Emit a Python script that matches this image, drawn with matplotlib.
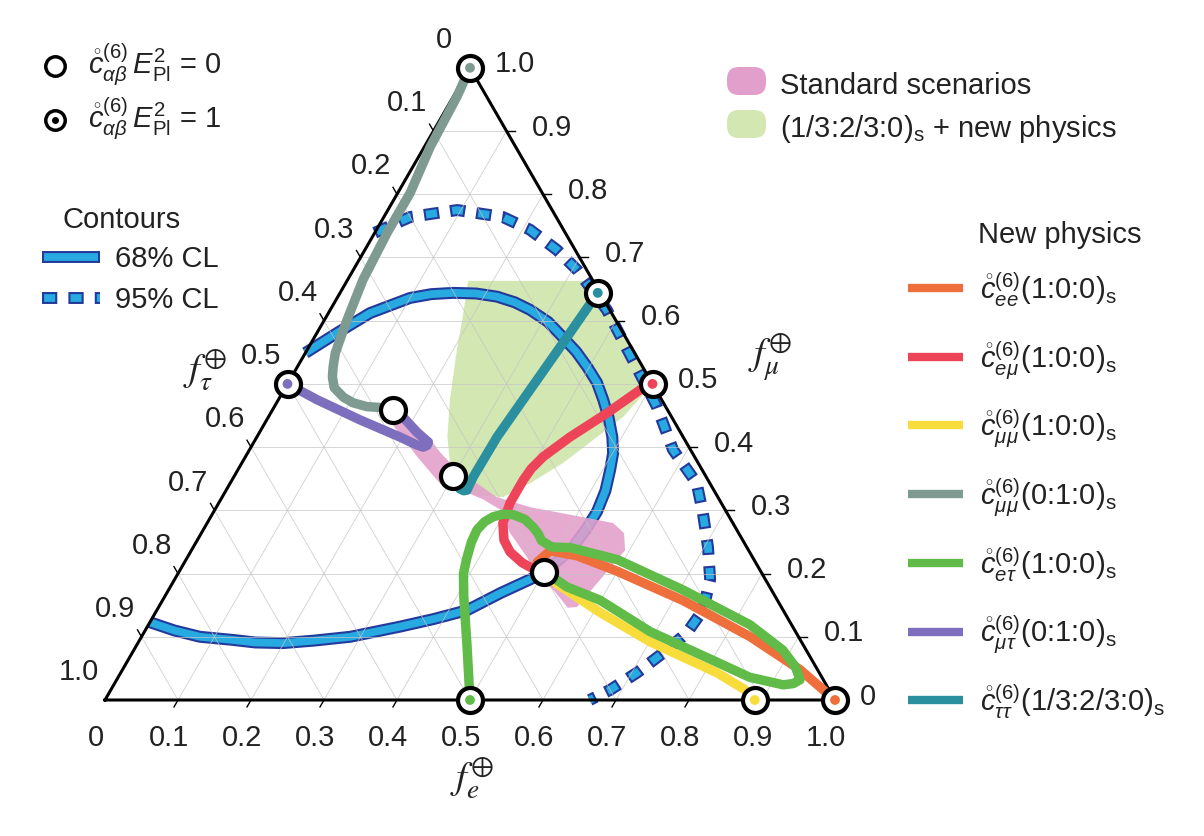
import numpy as np
import matplotlib.pyplot as plt
from matplotlib.patches import Polygon, FancyBboxPatch

plt.rcParams['font.family'] = ['Liberation Sans', 'DejaVu Sans']
plt.rcParams['mathtext.fontset'] = 'custom'
plt.rcParams['mathtext.rm'] = 'Liberation Sans'
plt.rcParams['mathtext.it'] = 'Liberation Sans:italic'
plt.rcParams['lines.scale_dashes'] = False

# --- data: flavour fractions (f_e, f_mu); f_tau = 1 - f_e - f_mu ---
ticks = [0.1, 0.2, 0.3, 0.4, 0.5, 0.6, 0.7, 0.8, 0.9]
tick_labels = ['0', '0.1', '0.2', '0.3', '0.4', '0.5', '0.6', '0.7', '0.8', '0.9', '1.0']

# standard scenarios region
std_fe = [0.150, 0.188, 0.232, 0.263, 0.296, 0.324, 0.376, 0.430, 0.506, 0.556, 0.579, 0.594, 0.583,
          0.573, 0.561, 0.531, 0.493, 0.465, 0.423, 0.391, 0.360, 0.332, 0.287, 0.235, 0.177]
std_fmu = [0.467, 0.451, 0.419, 0.392, 0.367, 0.351, 0.321, 0.305, 0.290, 0.280, 0.264, 0.237, 0.190,
           0.147, 0.146, 0.171, 0.198, 0.226, 0.264, 0.301, 0.317, 0.328, 0.343, 0.385, 0.435]

# (1/3:2/3:0)_s + new physics region
np_fe = [0.166, 0.337, 0.500, 0.486, 0.466, 0.440, 0.411, 0.385, 0.345, 0.287, 0.261, 0.235, 0.205, 0.187]
np_fmu = [0.663, 0.663, 0.500, 0.448, 0.416, 0.375, 0.343, 0.321, 0.324, 0.372, 0.416, 0.475, 0.554, 0.606]

# 68% and 95% CL contours
cl68_fe = [0.0, 0.028, 0.057, 0.100, 0.126, 0.155, 0.187, 0.218, 0.247, 0.274, 0.308, 0.340, 0.370,
           0.397, 0.423, 0.445, 0.467, 0.487, 0.501, 0.510, 0.520, 0.525, 0.524, 0.520, 0.512,
           0.504, 0.490, 0.457, 0.425, 0.386, 0.346, 0.286, 0.240, 0.199, 0.160, 0.128, 0.080, 0.040, 0.0]
cl68_fmu = [0.549, 0.581, 0.612, 0.636, 0.642, 0.644, 0.643, 0.638, 0.629, 0.617, 0.598, 0.574, 0.551,
            0.527, 0.502, 0.475, 0.446, 0.416, 0.390, 0.364, 0.331, 0.298, 0.270, 0.242, 0.224,
            0.210, 0.193, 0.169, 0.142, 0.128, 0.116, 0.100, 0.094, 0.090, 0.091, 0.095, 0.100, 0.110, 0.123]
cl95_fe = [0.0, 0.036, 0.095, 0.163, 0.210, 0.263, 0.307, 0.379, 0.454, 0.524, 0.580, 0.639, 0.671,
           0.705, 0.734, 0.748, 0.744, 0.727, 0.707, 0.684, 0.664]
cl95_fmu = [0.739, 0.764, 0.775, 0.764, 0.744, 0.712, 0.680, 0.617, 0.538, 0.464, 0.396, 0.343, 0.296,
            0.242, 0.190, 0.142, 0.106, 0.074, 0.043, 0.016, 0.0]

# new physics curves
ee_fe = [0.50, 0.483, 0.492, 0.533, 0.599, 0.714, 0.834, 0.928, 1.0]
ee_fmu = [0.2025, 0.218, 0.236, 0.228, 0.204, 0.157, 0.100, 0.048, 0.0]
emu_fe = [0.5, 0.488, 0.461, 0.429, 0.408, 0.401, 0.399, 0.399, 0.405, 0.420, 0.438, 0.463, 0.486, 0.50]
emu_fmu = [0.5, 0.491, 0.454, 0.416, 0.385, 0.366, 0.348, 0.312, 0.280, 0.253, 0.234, 0.217, 0.206, 0.2025]
mumu1_fe = [0.50, 0.527, 0.608, 0.701, 0.817, 0.869, 0.89]
mumu1_fmu = [0.2025, 0.184, 0.139, 0.092, 0.043, 0.016, 0.0]
mumu2_fe = [0.0, 0.005, 0.008, 0.017, 0.017, 0.021, 0.031, 0.041, 0.049, 0.056, 0.067, 0.087, 0.105,
            0.127, 0.155, 0.165]
mumu2_fmu = [1.0, 0.954, 0.875, 0.802, 0.739, 0.665, 0.601, 0.549, 0.527, 0.511, 0.494, 0.479, 0.470,
             0.464, 0.462, 0.459]
etau_fe = [0.5, 0.454, 0.410, 0.391, 0.383, 0.377, 0.375, 0.379, 0.387, 0.399, 0.413, 0.432, 0.449,
           0.462, 0.472, 0.491, 0.517, 0.591, 0.705, 0.824, 0.889, 0.920, 0.936, 0.930, 0.917, 0.865,
           0.808, 0.693, 0.599, 0.543, 0.515, 0.50]
etau_fmu = [0.0, 0.084, 0.163, 0.200, 0.226, 0.250, 0.269, 0.282, 0.290, 0.294, 0.293, 0.286, 0.274,
            0.263, 0.252, 0.242, 0.241, 0.222, 0.174, 0.119, 0.079, 0.052, 0.032, 0.026, 0.024, 0.036,
            0.060, 0.108, 0.158, 0.179, 0.195, 0.2025]
mutau_fe = [0.0, 0.053, 0.128, 0.196, 0.224, 0.236, 0.240, 0.239, 0.216, 0.184, 0.165]
mutau_fmu = [0.5, 0.475, 0.443, 0.416, 0.404, 0.400, 0.403, 0.408, 0.423, 0.448, 0.459]
tautau_fe = [0.353, 0.345, 0.337, 0.329, 0.328, 0.329, 0.330, 0.326, 0.319, 0.300]
tautau_fmu = [0.644, 0.565, 0.491, 0.416, 0.353, 0.340, 0.332, 0.331, 0.334, 0.354]

# points at c E^2 = 0 (open) and c E^2 = 1 (dotted)
e0_fe = [0.165, 0.300, 0.50]
e0_fmu = [0.459, 0.354, 0.2025]
e1_fe = [0.0, 0.353, 0.5, 0.0, 0.5, 0.89, 1.0]
e1_fmu = [1.0, 0.644, 0.5, 0.5, 0.0, 0.0, 0.0]

c_ee = '#ef6f3c'
c_emu = '#ee4459'
c_mumu1 = '#f8dc3c'
c_mumu2 = '#7f9a91'
c_etau = '#60bb48'
c_mutau = '#7d6fbd'
c_tautau = '#2a8f9f'
e1_colors = [c_mumu2, c_tautau, c_emu, c_mutau, c_etau, c_mumu1, c_ee]

curves = [(ee_fe, ee_fmu, c_ee, r'$\mathring{c}^{(6)}_{ee}$(1:0:0)$_\mathrm{s}$'),
          (emu_fe, emu_fmu, c_emu, r'$\mathring{c}^{(6)}_{e\mu}$(1:0:0)$_\mathrm{s}$'),
          (mumu1_fe, mumu1_fmu, c_mumu1, r'$\mathring{c}^{(6)}_{\mu\mu}$(1:0:0)$_\mathrm{s}$'),
          (mumu2_fe, mumu2_fmu, c_mumu2, r'$\mathring{c}^{(6)}_{\mu\mu}$(0:1:0)$_\mathrm{s}$'),
          (etau_fe, etau_fmu, c_etau, r'$\mathring{c}^{(6)}_{e\tau}$(1:0:0)$_\mathrm{s}$'),
          (mutau_fe, mutau_fmu, c_mutau, r'$\mathring{c}^{(6)}_{\mu\tau}$(0:1:0)$_\mathrm{s}$'),
          (tautau_fe, tautau_fmu, c_tautau, r'$\mathring{c}^{(6)}_{\tau\tau}$(1/3:2/3:0)$_\mathrm{s}$')]

S3 = np.sqrt(3) / 2


def tern(fe, fmu):
    fe = np.asarray(fe, dtype=float)
    fmu = np.asarray(fmu, dtype=float)
    return fe + fmu / 2, fmu * S3


dark_blue = '#23399b'
light_blue = '#27a9e1'
lw_dark, lw_light = 8.6, 5.6
dash_dark = (0, (11, 8))
dash_light = (17.5, (8, 11))

fig = plt.figure(figsize=(12.04, 8.36), dpi=100)
ax = fig.add_axes([0, 0, 1, 1])
ax.set_xlim(-105 / 730, 1099 / 730)
ax.set_ylim(-136 / 730, 700 / 730)
ax.axis('off')

# shaded regions
ax.add_patch(Polygon(np.column_stack(tern(np_fe, np_fmu)), closed=True, fc='#d3e7b2', ec='none', zorder=1))

# contours
x, y = tern(cl68_fe, cl68_fmu)
ax.plot(x, y, color=dark_blue, lw=lw_dark, solid_capstyle='butt', solid_joinstyle='round', zorder=2)
ax.plot(x, y, color=light_blue, lw=lw_light, solid_capstyle='butt', solid_joinstyle='round', zorder=2.1)
x, y = tern(cl95_fe, cl95_fmu)
ax.plot(x, y, color=dark_blue, lw=lw_dark, linestyle=dash_dark, dash_capstyle='butt', zorder=2)
ax.plot(x, y, color=light_blue, lw=lw_light, linestyle=dash_light, dash_capstyle='butt', zorder=2.1)

ax.add_patch(Polygon(np.column_stack(tern(std_fe, std_fmu)), closed=True, fc='#e39fcb', ec='none',
                     alpha=0.88, zorder=2.5))

# grid
for v in ticks:
    for a, b in [((v, 0), (v, 1 - v)), ((0, v), (1 - v, v)), ((1 - v, 0), (0, 1 - v))]:
        gx, gy = tern([a[0], b[0]], [a[1], b[1]])
        ax.plot(gx, gy, color='#c4c4c4', lw=0.6, alpha=0.8, zorder=3)

# new physics curves
for fe, fmu, col, lab in curves:
    x, y = tern(fe, fmu)
    ax.plot(x, y, color=col, lw=6.8, solid_capstyle='round', solid_joinstyle='round', zorder=4)

# triangle
tx, ty = tern([0, 1, 0, 0], [0, 0, 1, 0])
ax.plot(tx, ty, color='black', lw=2.2, solid_joinstyle='miter', zorder=3.5)

# ticks and tick labels
tl = 8 / 730
for i, v in enumerate([0] + ticks + [1]):
    # f_e on bottom axis
    bx, by = tern(v, 0)
    if 0 < v < 1:
        ax.plot([bx, bx - 0.5 * tl], [by, by - S3 * tl], color='black', lw=1, zorder=3.5)
    ax.annotate(tick_labels[i], (bx, by), xytext=(-6.5, -27), textcoords='offset points',
                ha='center', va='center', fontsize=21, color='#222222')
    # f_mu on right axis
    rx, ry = tern(1 - v, v)
    if 0 < v < 1:
        ax.plot([rx, rx + tl], [ry, ry], color='black', lw=1, zorder=3.5)
    ax.annotate(tick_labels[i], (rx, ry), xytext=(18, 2.5), textcoords='offset points',
                ha='left', va='center', fontsize=21, color='#222222')
    # f_tau on left axis
    lx, ly = tern(0, 1 - v)
    if 0 < v < 1:
        ax.plot([lx, lx - 0.5 * tl], [ly, ly + S3 * tl], color='black', lw=1, zorder=3.5)
    ax.annotate(tick_labels[i], (lx, ly), xytext=(-19, 20), textcoords='offset points',
                ha='center', va='center', fontsize=21, color='#222222')

# markers
x, y = tern(e1_fe, e1_fmu)
ax.plot(x, y, 'o', ms=18, mfc='white', mec='black', mew=3, zorder=6)
ax.scatter(x, y, s=50, c=e1_colors, zorder=7, linewidths=0)
x, y = tern(e0_fe, e0_fmu)
ax.plot(x, y, 'o', ms=18, mfc='white', mec='black', mew=3, zorder=6)

# overlay in pixel units for legends and axis titles
lax = fig.add_axes([0, 0, 1, 1], zorder=10)
lax.set_xlim(0, 1204)
lax.set_ylim(836, 0)
lax.axis('off')
lax.patch.set_alpha(0)

lab_kw = dict(fontsize=21, color='#222222')
for tx_, ty_, s in [(205, 370, r'$f_{\tau}^{\oplus}$'), (770, 357, r'$f_{\mu}^{\oplus}$'),
                    (472, 778, r'$f_{e}^{\oplus}$')]:
    lax.text(tx_, ty_, s, fontsize=28, ha='center', va='center', math_fontfamily='stix', color='#222222')

# marker legend
for yy, lab, dot in [(66, r'$\mathring{c}^{(6)}_{\alpha\beta}\,E^{2}_{\mathrm{Pl}}$ = 0', False),
                     (120, r'$\mathring{c}^{(6)}_{\alpha\beta}\,E^{2}_{\mathrm{Pl}}$ = 1', True)]:
    lax.plot(55, yy, 'o', ms=14, mfc='white', mec='black', mew=2.5)
    if dot:
        lax.plot(55, yy, 'o', ms=4, color='black')
    lax.text(88, yy + 8, lab, va='baseline', **lab_kw)

# contour legend
lax.text(62, 228, 'Contours', va='baseline', **lab_kw)
lax.plot([42, 100], [257, 257], color=dark_blue, lw=lw_dark, solid_capstyle='butt')
lax.plot([44, 98], [257, 257], color=light_blue, lw=lw_light, solid_capstyle='butt')
lax.text(115, 267, '68% CL', va='baseline', **lab_kw)
lax.plot([42, 100], [298, 298], color=dark_blue, lw=lw_dark, linestyle=dash_dark, dash_capstyle='butt')
lax.plot([42, 100], [298, 298], color=light_blue, lw=lw_light, linestyle=dash_light, dash_capstyle='butt')
lax.text(115, 308, '95% CL', va='baseline', **lab_kw)

# region legend
for yy, col, lab in [(67, '#e39fcb', 'Standard scenarios'),
                     (110, '#d3e7b2', r'(1/3:2/3:0)$_\mathrm{s}$ + new physics')]:
    lax.add_patch(FancyBboxPatch((733, yy + 6), 27, 16, boxstyle='round,pad=6,rounding_size=12',
                                 fc=col, ec='none'))
    lax.text(780, yy + 27, lab, va='baseline', **lab_kw)

# new physics legend
lax.text(978, 243, 'New physics', va='baseline', **lab_kw)
for k, (fe, fmu, col, lab) in enumerate(curves):
    yy = 288 + k * 68.7
    lax.plot([908, 963], [yy, yy], color=col, lw=6, solid_capstyle='butt')
    lax.text(980, yy + 11, lab, va='baseline', **lab_kw)

fig.savefig('out.png', dpi=100, facecolor='white')
